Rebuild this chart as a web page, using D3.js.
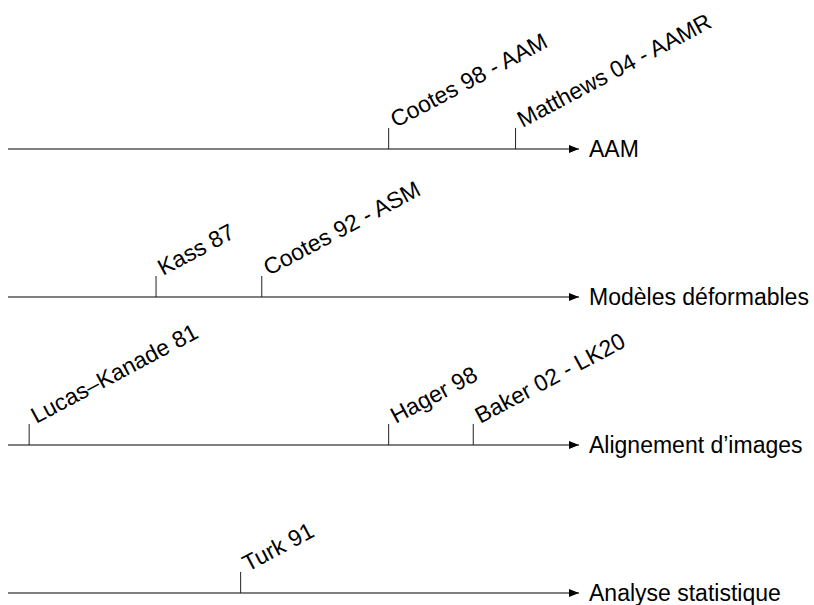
<!DOCTYPE html>
<html>
<head>
<meta charset="utf-8">
<script src="https://cdn.jsdelivr.net/npm/d3@7"></script>
<style>
  body { margin: 0; background: #fff; }
  svg text { font-family: "Liberation Sans", Arial, Helvetica, sans-serif; fill: #000; }
</style>
</head>
<body>
<div id="chart"></div>
<script>
// les quatre axes temporels
const tracks = ["AAM", "Modèles déformables", "Alignement d’images", "Analyse statistique"];

// événements : libellé, année (81 = 1981, 104 = 2004), axe
const eventLabels = ["Cootes 98 - AAM", "Matthews 04 - AAMR", "Kass 87", "Cootes 92 - ASM",
                     "Lucas–Kanade 81", "Hager 98", "Baker 02 - LK20", "Turk 91"];
const eventYears = [98, 104, 87, 92, 81, 98, 102, 91];
const eventTrack = [0, 0, 1, 1, 2, 2, 2, 3];

const yearDomain = [80, 107];

const width = 814, height = 605;

const svg = d3.select("#chart").append("svg")
    .attr("width", width)
    .attr("height", height);

const x = d3.scaleLinear().domain(yearDomain).range([8, 579]);
const y = d3.scalePoint().domain(d3.range(tracks.length)).range([149, 593]);

svg.append("defs").append("marker")
    .attr("id", "arrow")
    .attr("viewBox", "0 0 10 8")
    .attr("refX", 10)
    .attr("refY", 4)
    .attr("markerWidth", 10)
    .attr("markerHeight", 8)
    .attr("markerUnits", "userSpaceOnUse")
    .attr("orient", "auto")
  .append("path")
    .attr("d", "M0,0 L10,4 L0,8 Z")
    .attr("fill", "#000");

// lignes + flèches
const track = svg.selectAll(".track")
    .data(tracks)
    .enter().append("g")
    .attr("class", "track");

track.append("line")
    .attr("x1", x(yearDomain[0]))
    .attr("x2", x(yearDomain[1]))
    .attr("y1", (d, i) => y(i))
    .attr("y2", (d, i) => y(i))
    .attr("stroke", "#000")
    .attr("stroke-width", 1.2)
    .attr("marker-end", "url(#arrow)");

track.append("text")
    .attr("x", x(yearDomain[1]) + 10)
    .attr("y", (d, i) => y(i))
    .attr("dy", "0.36em")
    .style("font-size", "23px")
    .text(d => d);

// repères
const ev = svg.selectAll(".event")
    .data(eventLabels)
    .enter().append("g")
    .attr("class", "event")
    .attr("transform", (d, i) => `translate(${x(eventYears[i])},${y(eventTrack[i])})`);

ev.append("line")
    .attr("y1", 0)
    .attr("y2", -21)
    .attr("stroke", "#222")
    .attr("stroke-width", 1);

ev.append("text")
    .attr("transform", "translate(7,-21) rotate(-28)")
    .style("font-size", "23px")
    .text(d => d);
</script>
</body>
</html>
